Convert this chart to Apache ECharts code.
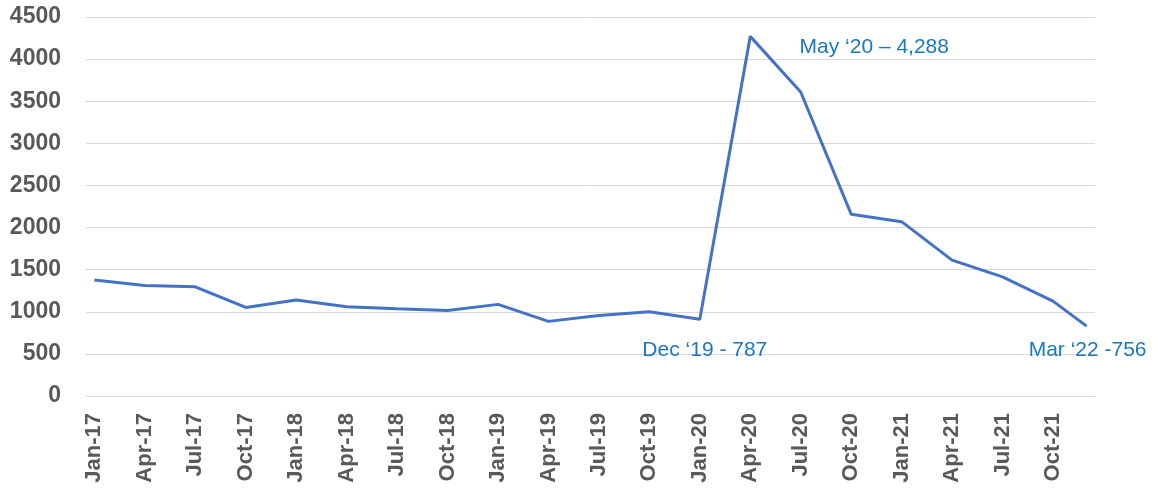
<!DOCTYPE html>
<html>
<head>
    <meta charset="utf-8">
    <title>ECharts</title>
    <script src="https://cdn.jsdelivr.net/npm/echarts@6/dist/echarts.min.js"></script>
</head>
<body style="margin:0;background:#fff;">
<div id="main" style="width: 1159px;height:490px;"></div>
<script type="text/javascript">
    // month names and years of the date axis (Jan-17 .. Dec-21, one category per month)
    var monthNames = ['Jan', 'Feb', 'Mar', 'Apr', 'May', 'Jun', 'Jul', 'Aug', 'Sep', 'Oct', 'Nov', 'Dec'];
    var years = ['17', '18', '19', '20', '21'];

    // quarterly readings, month offset from Jan-17
    var pointMonths = [0, 3, 6, 9, 12, 15, 18, 21, 24, 27, 30, 33, 36, 39, 42, 45, 48, 51, 54, 57, 59];
    var pointValues = [1376, 1313, 1297, 1052, 1140, 1059, 1036, 1016, 1088, 886, 957, 1000, 910, 4270, 3610, 2159, 2070, 1613, 1415, 1127, 830];

    // annotations: which reading they sit next to and their text
    var noteIndex = [13, 12, 20];
    var noteText = ['May \u201820 \u2013 4,288', 'Dec \u201819 - 787', 'Mar \u201822 -756'];

    var categories = [];
    years.forEach(function (y) {
        monthNames.forEach(function (m) {
            categories.push(m + '-' + y);
        });
    });

    var noteOffsets = [[124, 11], [5, 31], [1, 24]];

    var seriesData = pointMonths.map(function (m, i) {
        var item = {value: [m, pointValues[i]]};
        var k = noteIndex.indexOf(i);
        if (k >= 0) {
            item.label = {
                show: true,
                position: 'inside',
                offset: noteOffsets[k],
                formatter: noteText[k],
                color: '#1878c0',
                fontSize: 21,
                fontFamily: 'Liberation Sans'
            };
        }
        return item;
    });

    var myChart = echarts.init(document.getElementById('main'));
    var every3 = function (i) { return i % 3 === 0; };

    var option = {
        animation: false,
        grid: {left: 86, right: 64, top: 17, bottom: 94},
        xAxis: {
            type: 'category',
            data: categories,
            boundaryGap: true,
            axisLine: {lineStyle: {color: '#d9d9d9', width: 1}},
            axisTick: {interval: every3, length: 7, lineStyle: {color: '#d9d9d9'}},
            axisLabel: {
                interval: every3,
                rotate: 90,
                margin: 17,
                color: '#595959',
                fontWeight: 'bold',
                fontSize: 22,
                fontFamily: 'Liberation Sans'
            },
            splitLine: {show: false}
        },
        yAxis: {
            type: 'value',
            min: 0,
            max: 4500,
            interval: 500,
            axisLine: {show: false},
            axisTick: {show: false},
            axisLabel: {
                margin: 25,
                color: '#595959',
                fontWeight: 'bold',
                fontSize: 23,
                fontFamily: 'Liberation Sans',
                formatter: function (v) { return String(v); }
            },
            splitLine: {lineStyle: {color: '#d9d9d9', width: 1}}
        },
        series: [{
            type: 'line',
            data: seriesData,
            showSymbol: true,
            symbol: 'circle',
            symbolSize: 0,
            itemStyle: {color: 'rgba(0,0,0,0)'},
            lineStyle: {color: '#4472c4', width: 3},
            emphasis: {disabled: true}
        }]
    };
    myChart.setOption(option);
</script>
</body>
</html>
